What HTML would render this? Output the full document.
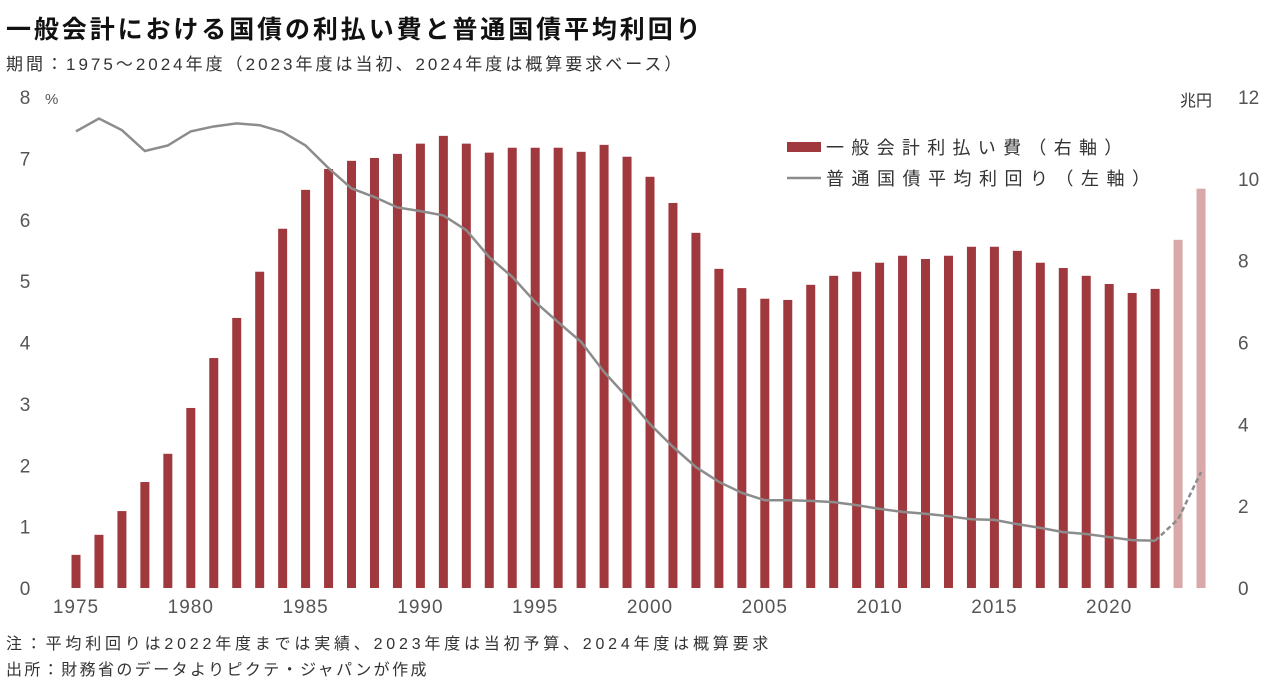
<!DOCTYPE html>
<html><head><meta charset="utf-8"><style>
body{margin:0;background:#fff;width:1272px;height:682px;overflow:hidden;font-family:"Liberation Sans","Noto Sans CJK JP",sans-serif;}
.t{position:absolute;white-space:nowrap;color:#222}
</style></head><body>
<div class="t" style="left:6px;top:10px;font-size:25px;font-weight:bold;color:#111;letter-spacing:2.9px">一般会計における国債の利払い費と普通国債平均利回り</div>
<div class="t" style="left:6px;top:50px;font-size:17px;color:#333;letter-spacing:3px">期間：1975～2024年度（2023年度は当初、2024年度は概算要求ベース）</div>
<div class="t" style="left:6px;top:630px;font-size:16px;color:#333;letter-spacing:3.8px">注：平均利回りは2022年度までは実績、2023年度は当初予算、2024年度は概算要求</div>
<div class="t" style="left:6px;top:656px;font-size:16px;color:#333;letter-spacing:2.4px">出所：財務省のデータよりピクテ・ジャパンが作成</div>
<svg id="c" width="1272" height="682" style="position:absolute;left:0;top:0" font-family="Liberation Sans, Noto Sans CJK JP, sans-serif"></svg>
<script>
const years=[];for(let y=1975;y<=2024;y++)years.push(y);
const interest=[0.81,1.3,1.88,2.59,3.28,4.40,5.62,6.6,7.73,8.78,9.73,10.24,10.44,10.51,10.61,10.86,11.05,10.86,10.64,10.76,10.76,10.76,10.66,10.83,10.54,10.05,9.41,8.68,7.80,7.33,7.07,7.04,7.41,7.63,7.73,7.95,8.12,8.04,8.12,8.34,8.34,8.24,7.95,7.82,7.63,7.43,7.21,7.31,8.51,9.76];
const yieldRate=[7.44,7.65,7.46,7.12,7.21,7.44,7.52,7.57,7.54,7.43,7.21,6.84,6.51,6.37,6.2,6.14,6.07,5.83,5.39,5.07,4.66,4.33,4.01,3.52,3.11,2.67,2.30,1.97,1.73,1.55,1.43,1.43,1.42,1.40,1.35,1.29,1.24,1.21,1.17,1.12,1.11,1.04,0.98,0.91,0.88,0.83,0.78,0.77,1.12,1.89];
const leftTicks=[0,1,2,3,4,5,6,7,8];
const rightTicks=[0,2,4,6,8,10,12];
const xLabels=[1975,1980,1985,1990,1995,2000,2005,2010,2015,2020];
const svg=document.getElementById('c');const NS='http://www.w3.org/2000/svg';
const X=y=>76+(y-1975)*22.96;
const YL=v=>588-v*61.375;
const YR=v=>588-v*40.917;
function mk(t,a,p){const e=document.createElementNS(NS,t);for(const k in a)e.setAttribute(k,a[k]);(p||svg).appendChild(e);return e;}
leftTicks.forEach(v=>{const e=mk('text',{x:25,y:YL(v)+7,'font-size':19,fill:'#555','text-anchor':'middle'});e.textContent=v;

});
rightTicks.forEach(v=>{const e=mk('text',{x:1238,y:YR(v)+7,'font-size':19,fill:'#555','text-anchor':'start'});e.textContent=v;

});
xLabels.forEach(v=>{const e=mk('text',{x:X(v),y:613,'font-size':19,fill:'#555','text-anchor':'middle','letter-spacing':'1'});e.textContent=v;

});
let u=mk('text',{x:45,y:104,'font-size':15,fill:'#555'});u.textContent='%';


u=mk('text',{x:1180,y:106,'font-size':16,fill:'#333'});u.textContent='兆円';


years.forEach((y,i)=>{const b=mk('rect',{x:X(y)-4.5,y:YR(interest[i]),width:9,height:588-YR(interest[i]),fill:y>=2023?'#d9a9aa':'#a0393d'});

});
let d='';for(let i=0;i<=47;i++)d+=(i?'L':'M')+X(years[i])+','+YL(yieldRate[i]);
const l=mk('path',{d:d,fill:'none',stroke:'#8c8c8c','stroke-width':2.5});


let d2='';for(let i=47;i<50;i++)d2+=(i>47?'L':'M')+X(years[i])+','+YL(yieldRate[i]);
const l2=mk('path',{d:d2,fill:'none',stroke:'#8c8c8c','stroke-width':2.5,'stroke-dasharray':'5,3'});


const g=mk('g',{});
mk('rect',{x:787,y:142,width:34,height:10,fill:'#a0393d'},g);
let t=mk('text',{x:826,y:154,'font-size':18,fill:'#333','letter-spacing':'7.3'},g);t.textContent='一般会計利払い費（右軸）';
mk('line',{x1:787,y1:178,x2:821,y2:178,stroke:'#8c8c8c','stroke-width':2.5},g);
t=mk('text',{x:826,y:185,'font-size':18,fill:'#333','letter-spacing':'7.5'},g);t.textContent='普通国債平均利回り（左軸）';
</script>
</body></html>
